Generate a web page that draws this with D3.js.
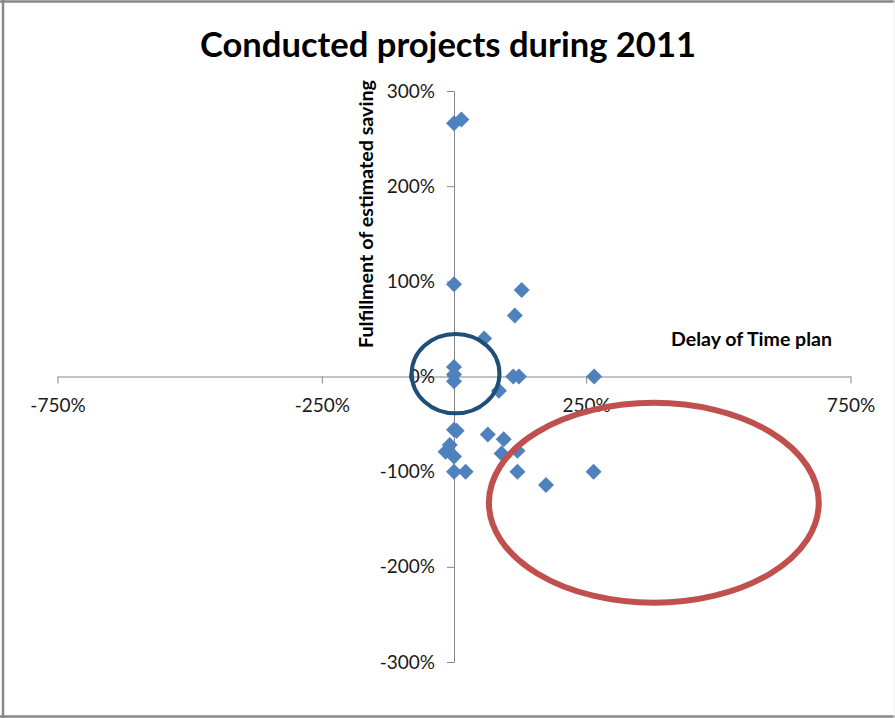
<!DOCTYPE html>
<html>
<head>
<meta charset="utf-8">
<script src="https://cdn.jsdelivr.net/npm/d3@7"></script>
<style>
  html, body { margin: 0; padding: 0; background: #fff; }
  svg { display: block; }
  .tick text { font-family: Lato, "Open Sans", sans-serif; font-size: 19px; fill: #1a1a1a; }
</style>
</head>
<body>
<svg id="chart" width="895" height="718"></svg>
<script>
// Projects conducted in 2011: delay of time plan (x, %) vs fulfillment of estimated saving (y, %)
const delayPct = [0, 14, 0, 128, 115, 57, 0, 0, 0, 112, 123, 265, 85, 0, 5, 64, 94, -16, -8, 0, 90, 120, 0, 22, 120, 174, 264];
const savingPct = [266, 270, 97, 91, 64, 40, 10, 2, -5, 0, 0, 0, -15, -56, -57, -61, -66, -79, -72, -84, -81, -78, -100, -100, -100, -114, -100];

const xTicks = [-750, -250, 250, 750];
const yTicks = [-300, -200, -100, 0, 100, 200, 300];

const titleText = "Conducted projects during 2011";
const xTitleText = "Delay of Time plan";
const yTitleText = "Fulfillment of estimated saving";

// Highlight ellipses in data units: [cx, cy, rx, ry]
const onTimeZone = [3, 3, 83, 41.7];
const lateZone = [378, -132.7, 312, 105];

const pts = delayPct.map((d, i) => ({ x: d, y: savingPct[i] }));

const svg = d3.select("#chart");

// Chart frame
const frame = svg.append("g").attr("stroke", "#888").attr("stroke-width", 2.5);
frame.append("line").attr("x1", 0).attr("x2", 895).attr("y1", 1.5).attr("y2", 1.5);
frame.append("line").attr("x1", 3).attr("x2", 3).attr("y1", 0).attr("y2", 718);
frame.append("line").attr("x1", 0).attr("x2", 895).attr("y1", 716.5).attr("y2", 716.5);
svg.append("line").attr("x1", 894).attr("x2", 894).attr("y1", 0).attr("y2", 718)
  .attr("stroke", "#eee").attr("stroke-width", 1);

const x = d3.scaleLinear().domain([-750, 750]).range([57.5, 850.5]);
const y = d3.scaleLinear().domain([-300, 300]).range([662, 91]);
const fmt = d => d + "%";

// Horizontal axis through y = 0
const xAxis = svg.append("g")
  .attr("transform", `translate(0,${y(0)})`)
  .call(d3.axisBottom(x).tickValues(xTicks).tickFormat(fmt).tickSize(7).tickPadding(15).tickSizeOuter(0));
xAxis.select(".domain").attr("stroke", "#868686");
xAxis.selectAll(".tick line").attr("stroke", "#868686");

// Vertical axis through x = 0
const yAxis = svg.append("g")
  .attr("transform", `translate(${x(0)},0)`)
  .call(d3.axisLeft(y).tickValues(yTicks).tickFormat(fmt).tickSize(7).tickPadding(12).tickSizeOuter(0));
yAxis.select(".domain").attr("stroke", "#868686");
yAxis.selectAll(".tick line").attr("stroke", "#868686");

svg.selectAll(".tick text").attr("font-family", null).attr("font-size", null);

// Titles
svg.append("text")
  .attr("x", 200).attr("y", 57)
  .attr("font-family", "Lato, sans-serif").attr("font-weight", "bold").attr("font-size", 34)
  .attr("textLength", 496).attr("lengthAdjust", "spacingAndGlyphs")
  .attr("fill", "#000")
  .text(titleText);

svg.append("text")
  .attr("x", 671).attr("y", 346)
  .attr("font-family", "Lato, sans-serif").attr("font-weight", "bold").attr("font-size", 18.5)
  .attr("textLength", 161).attr("lengthAdjust", "spacingAndGlyphs")
  .attr("fill", "#000")
  .text(xTitleText);

svg.append("text")
  .attr("transform", "translate(373,348) rotate(-90)")
  .attr("font-family", "Lato, sans-serif").attr("font-weight", "bold").attr("font-size", 18.5)
  .attr("textLength", 268).attr("lengthAdjust", "spacingAndGlyphs")
  .attr("fill", "#000")
  .text(yTitleText);

// Diamond markers
const diamond = d3.symbol().type(d3.symbolSquare).size(128);
svg.append("g")
  .selectAll("path")
  .data(pts)
  .join("path")
  .attr("d", diamond)
  .attr("transform", d => `translate(${x(d.x)},${y(d.y)}) rotate(45)`)
  .attr("fill", "#4f81bd");

// Highlight ellipses
function zone(z, color, width) {
  const [cx, cy, rx, ry] = z;
  svg.append("ellipse")
    .attr("cx", x(cx)).attr("cy", y(cy))
    .attr("rx", x(cx + rx) - x(cx)).attr("ry", y(cy) - y(cy + ry))
    .attr("fill", "none").attr("stroke", color).attr("stroke-width", width);
}
zone(onTimeZone, "#1f4e79", 4);
zone(lateZone, "#c0504d", 6);
</script>
</body>
</html>
